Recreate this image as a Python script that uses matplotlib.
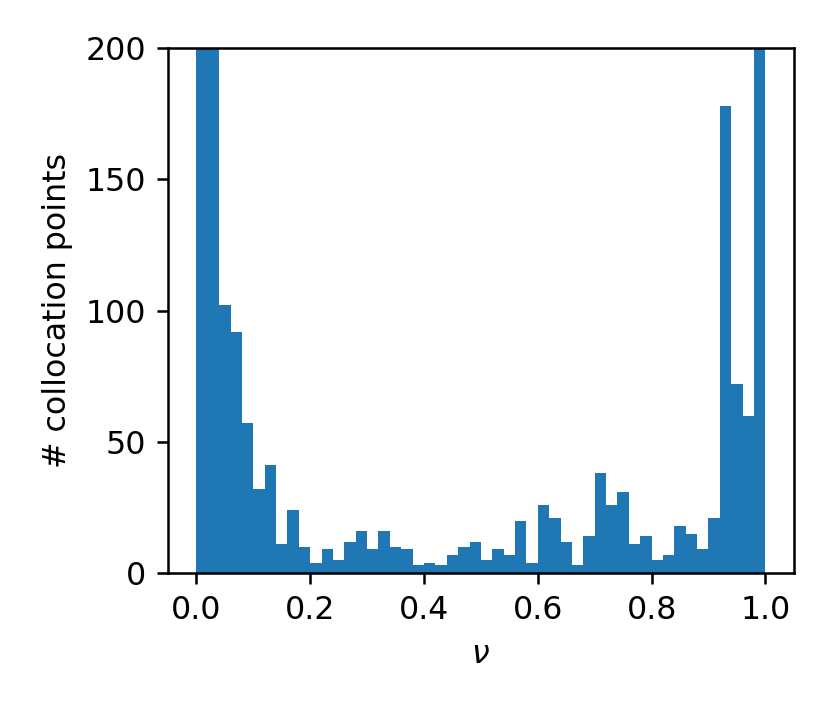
import numpy as np
from matplotlib import pyplot as plt

DPI = 228

# histogram of nu over 50 equal bins on [0, 1]; first two and last bins are clipped at 200
bin_edges = np.linspace(0.0, 1.0, 51)
counts = [420, 260, 102, 92, 57, 32, 41, 11, 24, 10,
          4, 9, 5, 12, 16, 9, 16, 10, 9, 3,
          4, 3, 7, 10, 12, 5, 9, 7, 20, 4,
          26, 21, 12, 3, 14, 38, 26, 31, 11, 14,
          5, 7, 18, 15, 9, 21, 178, 72, 60, 400]
y_ticks = [0, 50, 100, 150, 200]


def main():
    fig = plt.figure(figsize=(830 / DPI, 712 / DPI), dpi=DPI)
    ax = fig.add_axes([0.2024, 0.1952, 0.754, 0.7374])

    ax.hist(bin_edges[:-1], bins=bin_edges, weights=counts, color='#1f77b4')

    ax.set_xlim(-0.05, 1.05)
    ax.set_ylim(0, 200)
    ax.set_yticks(y_ticks)
    ax.set_xlabel(r'$\nu$')
    ax.set_ylabel('# collocation points')

    fig.savefig('out.png', dpi=DPI)


if __name__ == '__main__':
    main()
